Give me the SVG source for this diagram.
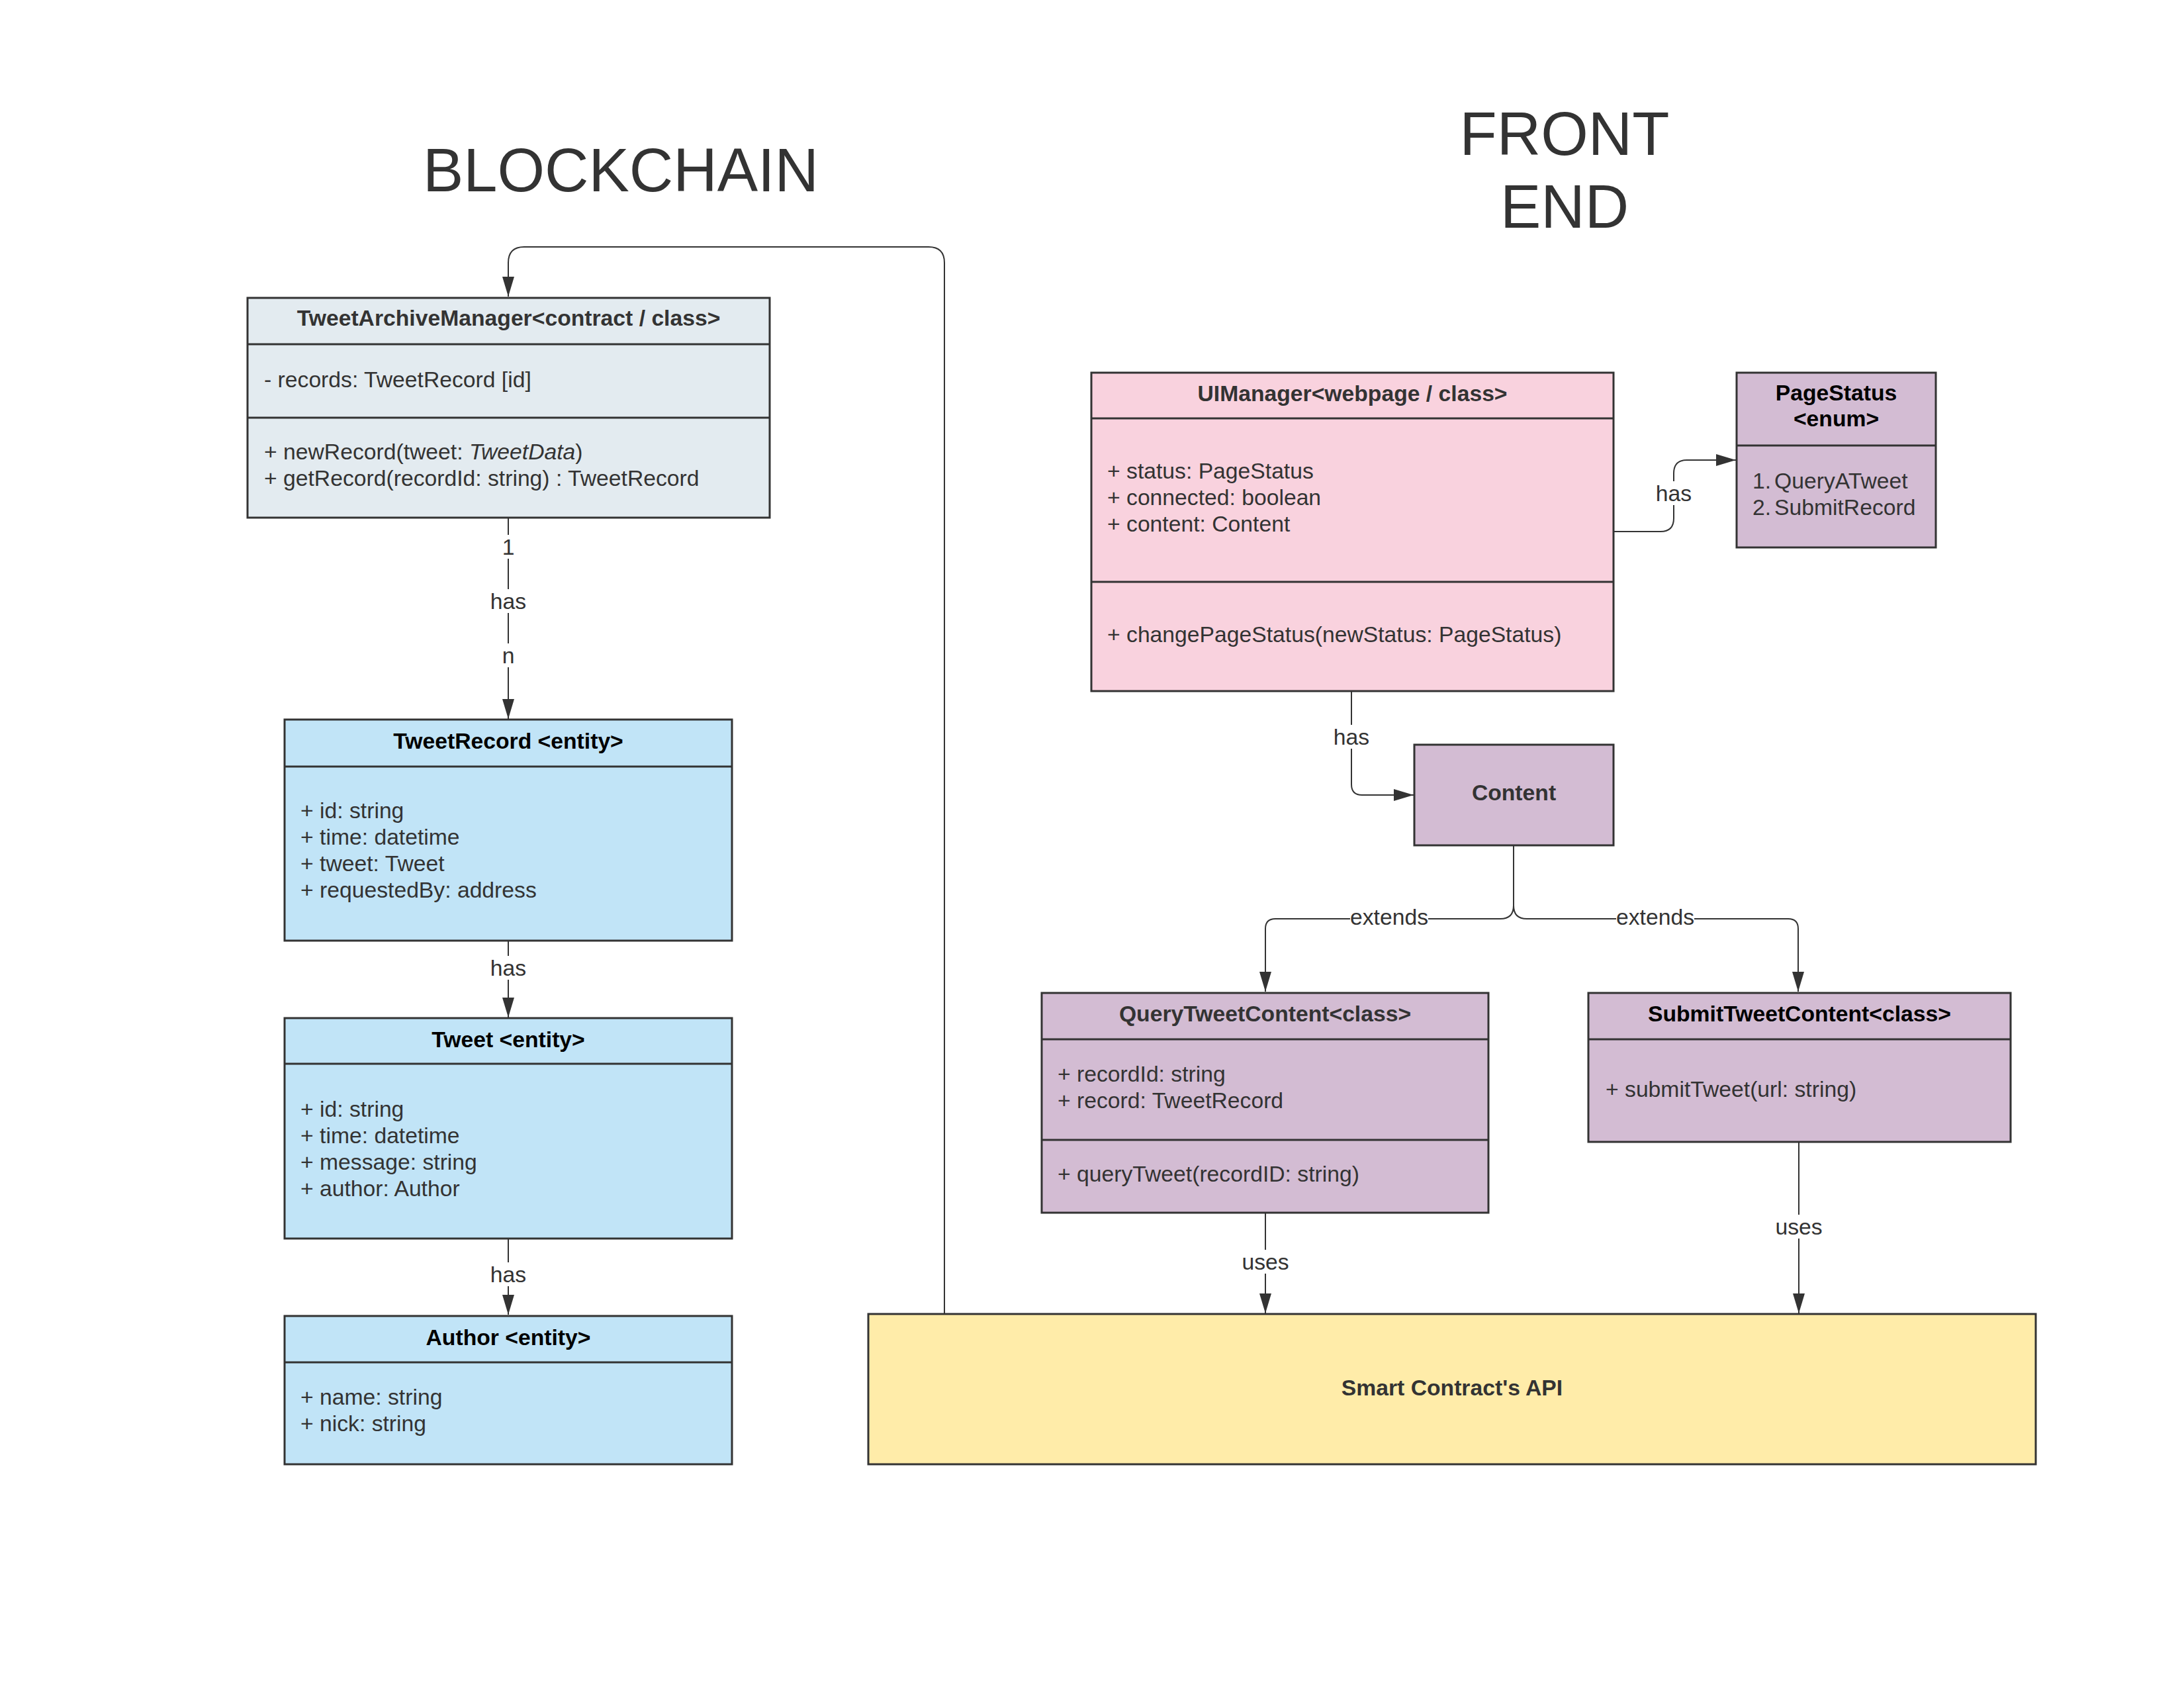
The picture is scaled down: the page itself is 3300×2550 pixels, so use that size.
<svg xmlns="http://www.w3.org/2000/svg" width="3300" height="2550" viewBox="0 0 3300 2550">
<defs>
<style>
text{font-family:"Liberation Sans",Arial,sans-serif;font-size:33.7px;fill:#333333}
.t{font-weight:bold;text-anchor:middle}
.k{fill:#000000}
.c{text-anchor:middle}
.h{font-size:92px;text-anchor:middle}
.box{stroke:#333333;stroke-width:3}
.div{stroke:#333333;stroke-width:3}
.tam{fill:#e3ebf0}
.ent{fill:#c1e4f7}
.pink{fill:#f9d2de}
.pur{fill:#d3bcd3}
.yel{fill:#ffeca9}
.ln{fill:none;stroke:#333333;stroke-width:2}
.bg{fill:#ffffff}
</style>
<marker id="ah" viewBox="0 0 30 20" refX="30" refY="10" markerWidth="30" markerHeight="20" markerUnits="userSpaceOnUse" orient="auto">
<path d="M0,1 L30,10 L0,19 Z" fill="#333333"/>
</marker>
</defs>
<rect width="3300" height="2550" fill="#ffffff"/>

<g id="titles">
<text class="h" x="938" y="289">BLOCKCHAIN</text>
<text class="h" x="2364" y="234">FRONT</text>
<text class="h" x="2364" y="344">END</text>
</g>

<g id="connectors">
<path class="ln" d="M1427,1985 L1427,397 Q1427,373 1403,373 L792,373 Q768,373 768,397 L768,448" marker-end="url(#ah)"/>
<path class="ln" d="M768,782 L768,1086" marker-end="url(#ah)"/>
<path class="ln" d="M768,1421 L768,1537" marker-end="url(#ah)"/>
<path class="ln" d="M768,1871 L768,1986" marker-end="url(#ah)"/>
<path class="ln" d="M2438,803 L2509,803 Q2529,803 2529,783 L2529,715 Q2529,695 2549,695 L2623,695" marker-end="url(#ah)"/>
<path class="ln" d="M2042,1044 L2042,1185 Q2042,1201 2058,1201 L2136,1201" marker-end="url(#ah)"/>
<path class="ln" d="M2287,1277 L2287,1368 Q2287,1388 2267,1388 L1927,1388 Q1912,1388 1912,1403 L1912,1498" marker-end="url(#ah)"/>
<path class="ln" d="M2287,1368 Q2287,1388 2307,1388 L2702,1388 Q2717,1388 2717,1403 L2717,1498" marker-end="url(#ah)"/>
<path class="ln" d="M1912,1832 L1912,1984" marker-end="url(#ah)"/>
<path class="ln" d="M2718,1725 L2718,1984" marker-end="url(#ah)"/>
<rect class="bg" x="756" y="808" width="24" height="36"/>
<text class="c" x="768" y="838">1</text>
<rect class="bg" x="740" y="890" width="56" height="36"/>
<text class="c" x="768" y="920">has</text>
<rect class="bg" x="756" y="972" width="24" height="36"/>
<text class="c" x="768" y="1002">n</text>
<rect class="bg" x="740" y="1444" width="56" height="36"/>
<text class="c" x="768" y="1474">has</text>
<rect class="bg" x="740" y="1907" width="56" height="36"/>
<text class="c" x="768" y="1937">has</text>
<rect class="bg" x="2501" y="727" width="56" height="36"/>
<text class="c" x="2529" y="757">has</text>
<rect class="bg" x="2014" y="1095" width="56" height="36"/>
<text class="c" x="2042" y="1125">has</text>
<rect class="bg" x="2040" y="1367" width="118" height="36"/>
<text class="c" x="2099" y="1397">extends</text>
<rect class="bg" x="2442" y="1367" width="118" height="36"/>
<text class="c" x="2501" y="1397">extends</text>
<rect class="bg" x="1876" y="1888" width="72" height="36"/>
<text class="c" x="1912" y="1918">uses</text>
<rect class="bg" x="2682" y="1835" width="72" height="36"/>
<text class="c" x="2718" y="1865">uses</text>
</g>

<g id="TweetArchiveManager">
<rect class="box tam" x="374" y="450" width="789" height="332"/>
<line class="div" x1="374" y1="520" x2="1163" y2="520"/>
<line class="div" x1="374" y1="631" x2="1163" y2="631"/>
<text class="t" x="768.5" y="492">TweetArchiveManager&lt;contract / class&gt;</text>
<text x="399" y="585">- records: TweetRecord [id]</text>
<text x="399" y="694">+ newRecord(tweet: <tspan font-style="italic">TweetData</tspan>)</text>
<text x="399" y="734">+ getRecord(recordId: string) : TweetRecord</text>
</g>

<g id="TweetRecord">
<rect class="box ent" x="430" y="1087" width="676" height="334"/>
<line class="div" x1="430" y1="1158" x2="1106" y2="1158"/>
<text class="t k" x="768" y="1131">TweetRecord &lt;entity&gt;</text>
<text x="454" y="1236">+ id: string</text>
<text x="454" y="1276">+ time: datetime</text>
<text x="454" y="1316">+ tweet: Tweet</text>
<text x="454" y="1356">+ requestedBy: address</text>
</g>

<g id="Tweet">
<rect class="box ent" x="430" y="1538" width="676" height="333"/>
<line class="div" x1="430" y1="1607" x2="1106" y2="1607"/>
<text class="t k" x="768" y="1582">Tweet &lt;entity&gt;</text>
<text x="454" y="1687">+ id: string</text>
<text x="454" y="1727">+ time: datetime</text>
<text x="454" y="1767">+ message: string</text>
<text x="454" y="1807">+ author: Author</text>
</g>

<g id="Author">
<rect class="box ent" x="430" y="1988" width="676" height="224"/>
<line class="div" x1="430" y1="2058" x2="1106" y2="2058"/>
<text class="t k" x="768" y="2032">Author &lt;entity&gt;</text>
<text x="454" y="2122">+ name: string</text>
<text x="454" y="2162">+ nick: string</text>
</g>

<g id="UIManager">
<rect class="box pink" x="1649" y="563" width="789" height="481"/>
<line class="div" x1="1649" y1="632" x2="2438" y2="632"/>
<line class="div" x1="1649" y1="879" x2="2438" y2="879"/>
<text class="t" x="2043.5" y="606">UIManager&lt;webpage / class&gt;</text>
<text x="1673" y="723">+ status: PageStatus</text>
<text x="1673" y="763">+ connected: boolean</text>
<text x="1673" y="803">+ content: Content</text>
<text x="1673" y="970">+ changePageStatus(newStatus: PageStatus)</text>
</g>

<g id="PageStatus">
<rect class="box pur" x="2624" y="563" width="301" height="264"/>
<line class="div" x1="2624" y1="673" x2="2925" y2="673"/>
<text class="t k" x="2774.5" y="605">PageStatus</text>
<text class="t k" x="2774.5" y="644">&lt;enum&gt;</text>
<text x="2648" y="738">1.</text>
<text x="2681" y="738">QueryATweet</text>
<text x="2648" y="778">2.</text>
<text x="2681" y="778">SubmitRecord</text>
</g>

<g id="Content">
<rect class="box pur" x="2137" y="1125" width="301" height="152"/>
<text class="t" x="2287.5" y="1209">Content</text>
</g>

<g id="QueryTweetContent">
<rect class="box pur" x="1574" y="1500" width="675" height="332"/>
<line class="div" x1="1574" y1="1570" x2="2249" y2="1570"/>
<line class="div" x1="1574" y1="1722" x2="2249" y2="1722"/>
<text class="t" x="1911.5" y="1543">QueryTweetContent&lt;class&gt;</text>
<text x="1598" y="1634">+ recordId: string</text>
<text x="1598" y="1674">+ record: TweetRecord</text>
<text x="1598" y="1785">+ queryTweet(recordID: string)</text>
</g>

<g id="SubmitTweetContent">
<rect class="box pur" x="2400" y="1500" width="638" height="225"/>
<line class="div" x1="2400" y1="1570" x2="3038" y2="1570"/>
<text class="t k" x="2719" y="1543">SubmitTweetContent&lt;class&gt;</text>
<text x="2426" y="1657">+ submitTweet(url: string)</text>
</g>

<g id="SmartContractAPI">
<rect class="box yel" x="1312" y="1985" width="1764" height="227"/>
<text class="t" x="2194" y="2108">Smart Contract's API</text>
</g>
</svg>
